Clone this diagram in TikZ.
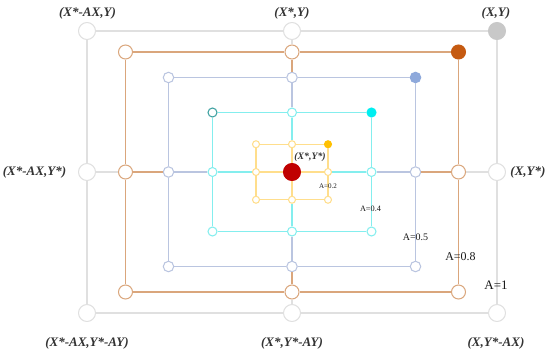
\documentclass[tikz,border=0pt]{standalone}
\usepackage{fontspec}
\setmainfont{Liberation Serif}
\usepackage{tikz}
\usetikzlibrary{positioning}
\definecolor{grayl}{RGB}{224,224,224}
\definecolor{grayf}{RGB}{200,200,200}
\definecolor{orl}{RGB}{218,166,124}
\definecolor{orf}{RGB}{197,90,17}
\definecolor{bll}{RGB}{186,197,224}
\definecolor{blf}{RGB}{142,169,219}
\definecolor{cyl}{RGB}{132,238,238}
\definecolor{cyf}{RGB}{0,238,240}
\definecolor{cyd}{RGB}{60,160,160}
\definecolor{yel}{RGB}{255,222,140}
\definecolor{yef}{RGB}{255,192,0}
\definecolor{redc}{RGB}{192,0,0}
\tikzset{
  vtx/.style={circle,fill=white,line width=0.6pt,inner sep=0pt},
  side/.style={line width=0.7pt},
  crd/.style={font=\fontsize{7.4}{8}\selectfont\bfseries\itshape,text=black!80,inner sep=0pt},
  alab/.style={text=black!90,inner sep=0pt},
}
\begin{document}
\begin{tikzpicture}
  \useasboundingbox (-5.84,-3.62) rectangle (5.16,3.44);
  % nested squares: prefix / half width / half height / line colour / corner fill / NW outline / circle size
  \foreach \pf/\hw/\hh/\lc/\fc/\nc/\sz in {g/4.1/2.82/grayl/grayf/grayl/0.34, o/3.33/2.4/orl/orf/orl/0.28,
      b/2.47/1.89/bll/blf/bll/0.21, c/1.59/1.19/cyl/cyf/cyd/0.18, y/0.72/0.555/yel/yef/yel/0.14}{
    \node[vtx,draw=\nc,minimum size=\sz cm] (\pf NW) at (-\hw,\hh){};
    \node[vtx,draw=\lc,minimum size=\sz cm] (\pf N) at (0,\hh){};
    \node[vtx,draw=\fc,fill=\fc,minimum size=\sz cm] (\pf NE) at (\hw,\hh){};
    \node[vtx,draw=\lc,minimum size=\sz cm] (\pf E) at (\hw,0){};
    \node[vtx,draw=\lc,minimum size=\sz cm] (\pf SE) at (\hw,-\hh){};
    \node[vtx,draw=\lc,minimum size=\sz cm] (\pf S) at (0,-\hh){};
    \node[vtx,draw=\lc,minimum size=\sz cm] (\pf SW) at (-\hw,-\hh){};
    \node[vtx,draw=\lc,minimum size=\sz cm] (\pf W) at (-\hw,0){};
    \draw[side,\lc] (\pf NW)--(\pf N)--(\pf NE)--(\pf E)--(\pf SE)--(\pf S)--(\pf SW)--(\pf W)--(\pf NW);
  }
  \node[vtx,draw=redc,fill=redc,minimum size=0.34cm] (ctr) at (0,0){};
  % spokes between neighbouring squares, in the outer one's colour
  \foreach \a/\b/\lc in {g/o/grayl, o/b/orl, b/c/bll, c/y/cyl}{
    \foreach \s in {N,E,S,W} \draw[side,\lc] (\a\s)--(\b\s);
  }
  \foreach \s in {N,E,S,W} \draw[side,yel] (y\s)--(ctr);
  % corner labels
  \node[crd] (ltl) at (-4.09,3.18){(X*-AX,Y)};
  \node[crd] (ltm) at (0,3.18){(X*,Y)};
  \node[crd] (ltr) at (4.08,3.18){(X,Y)};
  \node[crd] (lml) at (-5.15,0){(X*-AX,Y*)};
  \node[crd] (lmr) at (4.72,0){(X,Y*)};
  \node[crd] (lbl) at (-4.1,-3.42){(X*-AX,Y*-AY)};
  \node[crd] (lbm) at (0,-3.42){(X*,Y*-AY)};
  \node[crd] (lbr) at (4.08,-3.42){(X,Y*-AX)};
  \node[crd,font=\fontsize{5.6}{6}\selectfont\bfseries\itshape] (lctr) at (0.36,0.3){(X*,Y*)};
  % scale factors
  \node[alab,font=\fontsize{4}{5}\selectfont] (a02) at (0.72,-0.28){A=0.2};
  \node[alab,font=\fontsize{4.7}{5}\selectfont] (a04) at (1.57,-0.73){A=0.4};
  \node[alab,font=\fontsize{5.7}{6}\selectfont] (a05) at (2.47,-1.31){A=0.5};
  \node[alab,font=\fontsize{6.8}{7}\selectfont] (a08) at (3.37,-1.69){A=0.8};
  \node[alab,font=\fontsize{7.4}{8}\selectfont] (a10) at (4.08,-2.27){A=1};
\end{tikzpicture}
\end{document}
